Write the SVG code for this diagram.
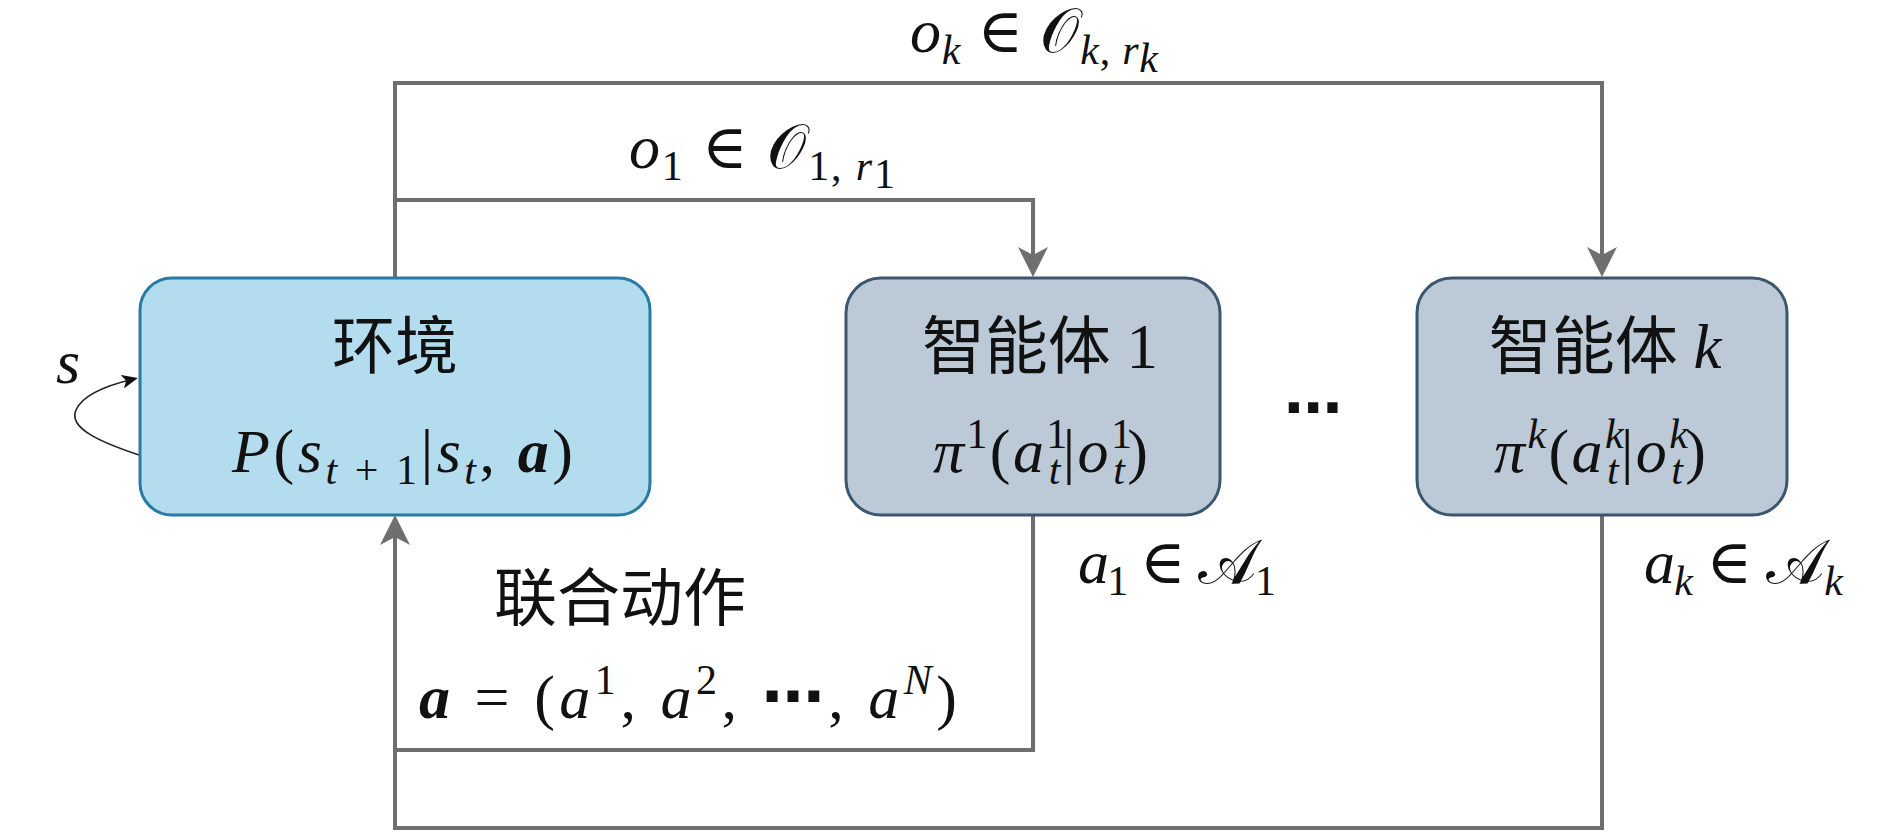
<svg xmlns="http://www.w3.org/2000/svg" width="1890" height="832" viewBox="0 0 1890 832">
<style>
.wire{fill:none;stroke:#6f6f6f;stroke-width:4;stroke-linejoin:miter}
.env{fill:#b3ddef;stroke:#2b7aa6;stroke-width:3}
.agent{fill:#bccad7;stroke:#3b566e;stroke-width:3}
.m{font-family:"Liberation Serif","DejaVu Serif","Noto Sans CJK SC",serif;font-size:62px;fill:#111}
.cjk{font-family:"Liberation Serif","Noto Sans CJK SC",sans-serif;font-size:63px;fill:#111}
.i{font-style:italic}
.b{font-style:italic;font-weight:bold}
.s{font-size:42px}
.cal{font-family:"DejaVu Serif","DejaVu Sans",serif;font-style:normal}
.dots{font-family:"DejaVu Sans",sans-serif;font-weight:bold}
</style>
<defs>
<marker id="arr" markerUnits="userSpaceOnUse" markerWidth="30" markerHeight="30" viewBox="0 0 30 30" refX="22" refY="15" orient="auto">
<path d="M0,0 L30,15 L0,30 L8,15 Z" fill="#6f6f6f"/>
</marker>
<marker id="sarr" markerUnits="userSpaceOnUse" markerWidth="16" markerHeight="14" viewBox="0 0 16 14" refX="12" refY="7" orient="auto">
<path d="M0,0 L16,7 L0,14 L4,7 Z" fill="#111"/>
</marker>
</defs>

<g id="connectors">
<path class="wire" d="M395,278 V83 H1602 V269" marker-end="url(#arr)"/>
<path class="wire" d="M395,200 H1033 V269" marker-end="url(#arr)"/>
<path class="wire" d="M1033,515 V750 H395"/>
<path class="wire" d="M1602,515 V828 H395 V523" marker-end="url(#arr)"/>
<path d="M139,455 C100,442 68,428 76,410 C83,394 108,385 134,379" fill="none" stroke="#222" stroke-width="1.6" marker-end="url(#sarr)"/>
</g>

<g id="env">
<rect class="env" x="140" y="278" width="510" height="237" rx="32"/>
<text class="cjk" x="395" y="368" text-anchor="middle">环境</text>
<text class="m" x="232" y="472" textLength="341" lengthAdjust="spacing"><tspan class="i">P</tspan>(<tspan class="i">s</tspan><tspan class="s" dy="12"><tspan class="i">t</tspan> + 1</tspan><tspan dy="-12">|</tspan><tspan class="i">s</tspan><tspan class="s i" dy="12">t</tspan><tspan dy="-12">, </tspan><tspan class="b">a</tspan>)</text>
</g>

<g id="agent1">
<rect class="agent" x="846" y="278" width="374" height="237" rx="35"/>
<text class="cjk" x="1040" y="368" text-anchor="middle">智能体 1</text>
<text class="m" x="933" y="472" textLength="215" lengthAdjust="spacing"><tspan class="i">π</tspan><tspan class="s" dy="-24">1</tspan><tspan dy="24">(</tspan><tspan class="i">a</tspan><tspan class="s" dy="-24">1</tspan><tspan class="s i" dx="-21" dy="36">t</tspan><tspan dy="-12">|</tspan><tspan class="i">o</tspan><tspan class="s" dy="-24">1</tspan><tspan class="s i" dx="-21" dy="36">t</tspan><tspan dy="-12">)</tspan></text>
</g>

<g id="agentk">
<rect class="agent" x="1417" y="278" width="370" height="237" rx="35"/>
<text class="cjk" x="1605" y="368" text-anchor="middle">智能体 <tspan class="i" font-family="Liberation Serif">k</tspan></text>
<text class="m" x="1494" y="472" textLength="212" lengthAdjust="spacing"><tspan class="i">π</tspan><tspan class="s i" dy="-24">k</tspan><tspan dy="24">(</tspan><tspan class="i">a</tspan><tspan class="s i" dy="-24">k</tspan><tspan class="s i" dx="-19" dy="36">t</tspan><tspan dy="-12">|</tspan><tspan class="i">o</tspan><tspan class="s i" dy="-24">k</tspan><tspan class="s i" dx="-19" dy="36">t</tspan><tspan dy="-12">)</tspan></text>
</g>

<g id="labels">
<text class="m i" x="56" y="383">s</text>
<text class="m" x="910" y="52" textLength="248" lengthAdjust="spacing"><tspan class="i">o</tspan><tspan class="s i" dy="12">k</tspan><tspan dy="-12"> ∈ </tspan><tspan class="cal">𝒪</tspan><tspan class="s" dy="12"><tspan class="i">k</tspan>, <tspan class="i">r</tspan></tspan><tspan class="s i" font-size="28" dy="8">k</tspan></text>
<text class="m" x="629" y="168" textLength="266" lengthAdjust="spacing"><tspan class="i">o</tspan><tspan class="s" dy="12">1</tspan><tspan dy="-12"> ∈ </tspan><tspan class="cal">𝒪</tspan><tspan class="s" dy="12">1, <tspan class="i">r</tspan></tspan><tspan class="s" font-size="28" dy="8">1</tspan></text>
<text class="m" x="1078" y="583" textLength="198" lengthAdjust="spacing"><tspan class="i">a</tspan><tspan class="s" dy="12">1</tspan><tspan dy="-12"> ∈ </tspan><tspan class="cal">𝒜</tspan><tspan class="s" dy="12">1</tspan></text>
<text class="m" x="1644" y="583" textLength="199" lengthAdjust="spacing"><tspan class="i">a</tspan><tspan class="s i" dy="12">k</tspan><tspan dy="-12"> ∈ </tspan><tspan class="cal">𝒜</tspan><tspan class="s i" dy="12">k</tspan></text>
<text class="cjk" x="494" y="620" font-size="64">联合动作</text>
<text class="m" x="419" y="718" textLength="538" lengthAdjust="spacing"><tspan class="b">a</tspan> = (<tspan class="i">a</tspan><tspan class="s" dy="-24">1</tspan><tspan dy="24">, </tspan><tspan class="i">a</tspan><tspan class="s" dy="-24">2</tspan><tspan dy="24">, </tspan><tspan class="dots">⋯</tspan>, <tspan class="i">a</tspan><tspan class="s i" dy="-24">N</tspan><tspan dy="24">)</tspan></text>
<text class="dots" x="1313" y="428" font-size="58" text-anchor="middle" fill="#111">⋯</text>
</g>
</svg>
